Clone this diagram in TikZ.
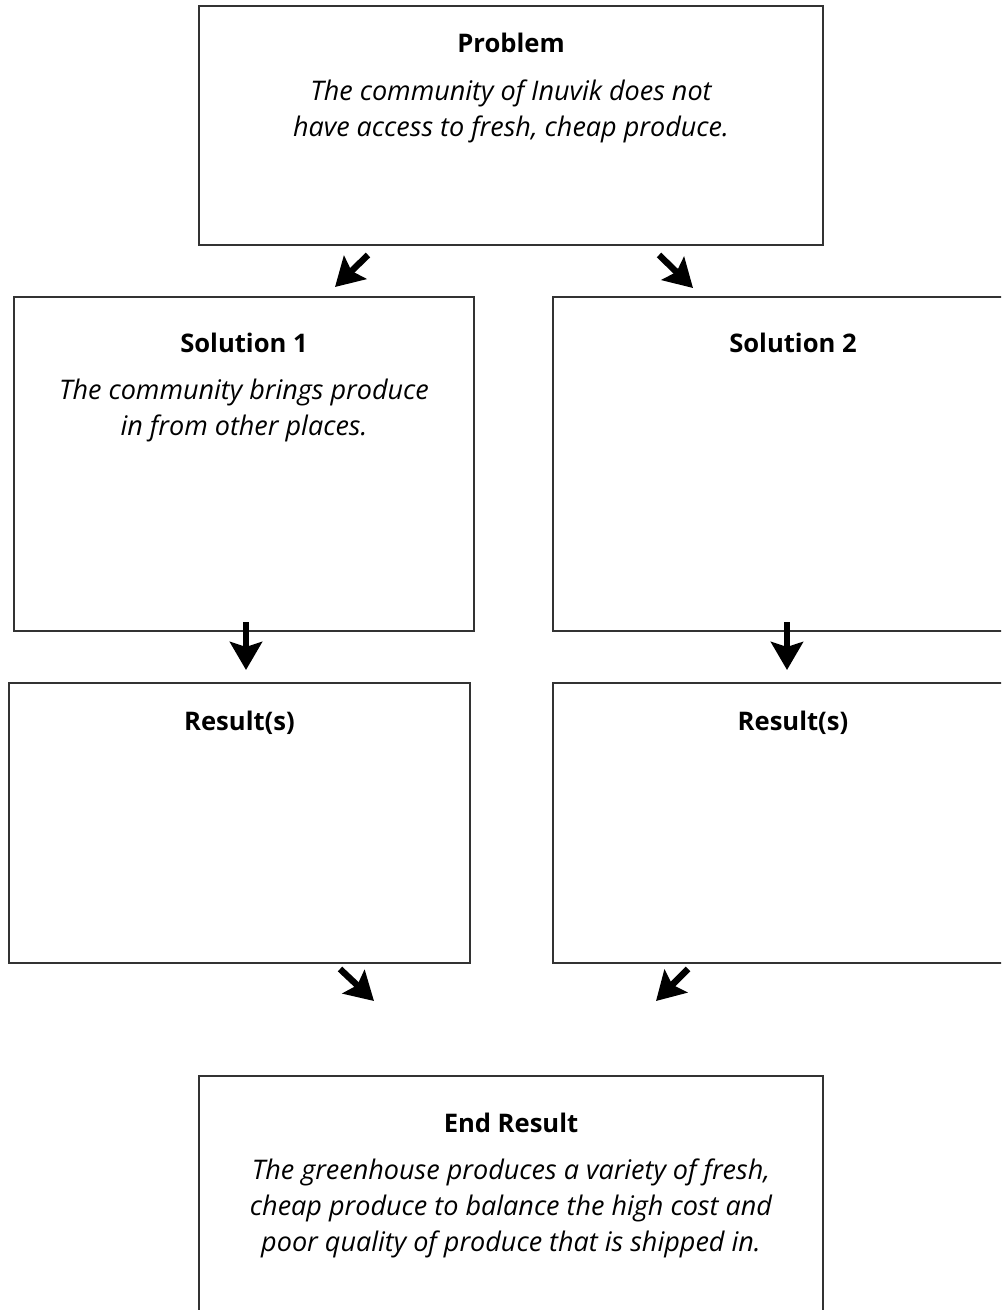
\documentclass[tikz,border=0pt]{standalone}
\usepackage{fontspec}
\setmainfont{Open Sans}
\usetikzlibrary{arrows.meta}

\begin{document}
\begin{tikzpicture}[x=0.5pt,y=-0.5pt]
      \tikzstyle{box}=[draw=black!80, line width=1pt, inner sep=0pt, anchor=north west]
      \tikzstyle{head}=[font=\bfseries\fontsize{12.8}{15}\selectfont, inner sep=0pt]
      \tikzstyle{body}=[font=\itshape\fontsize{13.5}{18}\selectfont, align=center, anchor=north, inner sep=0pt]
      \tikzstyle{flow}=[-{Stealth[length=14pt,width=16pt,inset=2.5pt]}, line width=3.2pt]

      \useasboundingbox (0,0) rectangle (1001,1310);
      \clip (0,0) rectangle (1001,1310);

      % boxes
      \node [box, minimum width=312pt, minimum height=119.5pt] (prob) at (198,5) {};
      \node [box, minimum width=230pt, minimum height=167pt] (sol1) at (13,296) {};
      \node [box, minimum width=240pt, minimum height=167pt] (sol2) at (552,296) {};
      \node [box, minimum width=230.5pt, minimum height=140pt] (res1) at (8,682) {};
      \node [box, minimum width=240pt, minimum height=140pt] (res2) at (552,682) {};
      \node [box, minimum width=312pt, minimum height=130pt] (endres) at (198,1075) {};

      % texts
      \node [head] at ([yshift=-19pt]prob.north) {Problem};
      \node [body] at ([yshift=-37pt]prob.north) {The community of Inuvik does not\\have access to fresh, cheap produce.};
      \node [head] at ([yshift=-23.5pt]sol1.north) {Solution 1};
      \node [body] at ([yshift=-41.5pt]sol1.north) {The community brings produce\\in from other places.};
      \node [head] at ([yshift=-23.5pt]sol2.north) {Solution 2};
      \node [head] at ([yshift=-20.5pt]res1.north) {Result(s)};
      \node [head] at ([yshift=-20.5pt]res2.north) {Result(s)};
      \node [head] at ([yshift=-24pt]endres.north) {End Result};
      \node [body] at ([yshift=-41.5pt]endres.north) {The greenhouse produces a variety of fresh,\\cheap produce to balance the high cost and\\poor quality of produce that is shipped in.};

      % arrows
      \draw [flow] ([shift={(170,9)}]prob.south west) -- ([shift={(322,-9)}]sol1.north west);
      \draw [flow] ([shift={(-165,9)}]prob.south east) -- ([shift={(141,-8)}]sol2.north west);
      \draw [flow] ([shift={(233,-10)}]sol1.south west) -- ([shift={(238,-12)}]res1.north west);
      \draw [flow] ([shift={(235,-10)}]sol2.south west) -- ([shift={(235,-12)}]res2.north west);
      \draw [flow] ([shift={(-131,5)}]res1.south east) -- ([shift={(176,-74)}]endres.north west);
      \draw [flow] ([shift={(136,5)}]res2.south west) -- ([shift={(-168,-74)}]endres.north east);
\end{tikzpicture}
\end{document}
